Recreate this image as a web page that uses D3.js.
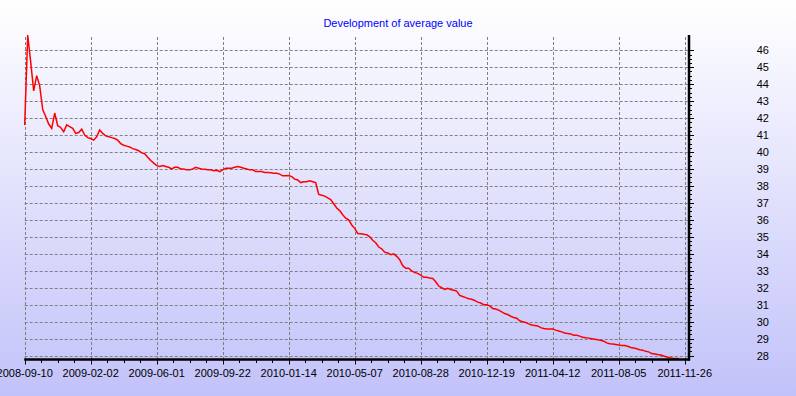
<!DOCTYPE html>
<html>
<head>
<meta charset="utf-8">
<script src="https://cdn.jsdelivr.net/npm/d3@7"></script>
<style>
    body { margin: 0; }
    text { font-family: "Liberation Sans", Arial, sans-serif; }
</style>
</head>
<body>
<div id="plot"></div>
<script>
// labels along the bottom, evenly spaced
const tickDates = ["2008-09-10", "2009-02-02", "2009-06-01", "2009-09-22", "2010-01-14", "2010-05-07",
    "2010-08-28", "2010-12-19", "2011-04-12", "2011-08-05", "2011-11-26"];
const yTickValues = [28, 29, 30, 31, 32, 33, 34, 35, 36, 37, 38, 39, 40, 41, 42, 43, 44, 45, 46];

// average value (one sample per step)
const avgValue = [
    41.6, 46.9, 45.3, 43.6, 44.5, 43.9, 42.5, 42.1, 41.65, 41.4,
    42.3, 41.55, 41.45, 41.2, 41.6, 41.5, 41.4, 41.1, 41.15, 41.35,
    41.0, 40.85, 40.8, 40.7, 40.9, 41.3, 41.1, 40.95, 40.9, 40.85,
    40.8, 40.7, 40.5, 40.4, 40.35, 40.3, 40.2, 40.15, 40.08, 39.95,
    39.9, 39.7, 39.5, 39.35, 39.2, 39.15, 39.2, 39.15, 39.1, 39.0,
    39.1, 39.1, 39.0, 39.0, 38.95, 38.95, 39.0, 39.1, 39.05, 39.0,
    38.98, 38.95, 38.95, 38.9, 38.92, 38.85, 38.95, 39.05, 39.05, 39.05,
    39.1, 39.15, 39.1, 39.05, 39.0, 38.95, 38.95, 38.85, 38.85, 38.85,
    38.8, 38.8, 38.78, 38.75, 38.75, 38.7, 38.6, 38.6, 38.62, 38.55,
    38.4, 38.35, 38.2, 38.25, 38.25, 38.3, 38.25, 38.2, 37.5, 37.45,
    37.4, 37.3, 37.2, 36.95, 36.7, 36.55, 36.3, 36.1, 36.0, 35.7,
    35.5, 35.2, 35.18, 35.15, 35.13, 35.0, 34.8, 34.65, 34.4, 34.3,
    34.1, 34.05, 33.95, 34.0, 33.85, 33.65, 33.3, 33.15, 33.15, 33.0,
    32.9, 32.85, 32.75, 32.62, 32.62, 32.58, 32.55, 32.35, 32.1, 32.0,
    31.9, 31.97, 31.9, 31.85, 31.8, 31.55, 31.48, 31.42, 31.35, 31.32,
    31.25, 31.15, 31.1, 31.0, 31.0, 30.93, 30.78, 30.75, 30.68, 30.58,
    30.48, 30.42, 30.32, 30.25, 30.2, 30.05, 30.0, 29.95, 29.87, 29.8,
    29.78, 29.75, 29.65, 29.6, 29.57, 29.57, 29.57, 29.5, 29.45, 29.4,
    29.33, 29.3, 29.28, 29.2, 29.2, 29.15, 29.08, 29.05, 29.03, 29.0,
    28.97, 28.93, 28.9, 28.85, 28.75, 28.7, 28.68, 28.66, 28.62, 28.6,
    28.6, 28.55, 28.48, 28.45, 28.4, 28.35, 28.32, 28.25, 28.22, 28.12,
    28.1, 28.06, 28.04, 27.98, 27.92, 27.88, 27.85, 27.83, 27.83
];

const width = 796;
const height = 396;
const plotLeft = 24.7;
const plotRight = 684.7;
const axisRightX = 689;
const plotTop = 35;
const plotBottom = 359.5;
const stepsPerLabel = 22;

const svg = d3.select("#plot")
    .append("svg")
    .attr("width", width)
    .attr("height", height);

const defs = svg.append("defs");
const bg = defs.append("linearGradient")
    .attr("id", "bg-gradient")
    .attr("x1", 0).attr("y1", 0)
    .attr("x2", 0).attr("y2", 1);
bg.append("stop").attr("offset", "0%").attr("stop-color", "#ffffff");
bg.append("stop").attr("offset", "100%").attr("stop-color", "#c2c2fa");

svg.append("rect")
    .attr("width", width)
    .attr("height", height)
    .style("fill", "url(#bg-gradient)");

const xScale = d3.scaleLinear()
    .domain([0, (tickDates.length - 1) * stepsPerLabel])
    .range([plotLeft, plotRight]);

const yScale = d3.scaleLinear()
    .domain([27.77, 46.9])
    .range([plotBottom, plotTop]);

const labelIdx = tickDates.map((d, i) => i * stepsPerLabel);
const minorIdx = d3.range(0, (tickDates.length - 1) * stepsPerLabel + 1, stepsPerLabel / 4);
const minorY = d3.range(yTickValues[0], yTickValues[yTickValues.length - 1] + 0.01, 0.25);

// grid
svg.append("g")
    .selectAll("line")
    .data(yTickValues)
    .enter()
    .append("line")
    .attr("x1", plotLeft)
    .attr("x2", axisRightX)
    .attr("y1", d => Math.round(yScale(d)) + 0.5)
    .attr("y2", d => Math.round(yScale(d)) + 0.5)
    .style("stroke", "#808080")
    .style("stroke-dasharray", "3,2");

svg.append("g")
    .selectAll("line")
    .data(labelIdx)
    .enter()
    .append("line")
    .attr("x1", d => Math.round(xScale(d)) + 0.5)
    .attr("x2", d => Math.round(xScale(d)) + 0.5)
    .attr("y1", plotTop + 2)
    .attr("y2", plotBottom)
    .style("stroke", "#808080")
    .style("stroke-dasharray", "3,2");

// the series
const line = d3.line()
    .x((d, i) => xScale(i))
    .y(d => yScale(d));

svg.append("path")
    .datum(avgValue)
    .attr("d", line)
    .style("fill", "none")
    .style("stroke", "#ff0000")
    .style("stroke-width", 1.5);

// bottom axis
svg.append("g")
    .selectAll("line")
    .data(minorIdx)
    .enter()
    .append("line")
    .attr("x1", d => Math.round(xScale(d)) + 0.5)
    .attr("x2", d => Math.round(xScale(d)) + 0.5)
    .attr("y1", plotBottom)
    .attr("y2", d => plotBottom + (d % stepsPerLabel === 0 ? 5 : 3.5))
    .style("stroke", "#000");

svg.append("line")
    .attr("x1", plotLeft - 0.5)
    .attr("x2", axisRightX + 1)
    .attr("y1", plotBottom)
    .attr("y2", plotBottom)
    .style("stroke", "#000")
    .style("stroke-width", 2.5);

svg.append("g")
    .selectAll("text")
    .data(tickDates)
    .enter()
    .append("text")
    .attr("x", (d, i) => xScale(labelIdx[i]))
    .attr("y", 377)
    .attr("text-anchor", "middle")
    .style("font-size", "11px")
    .style("fill", "#000")
    .text(d => d);

// right axis
svg.append("g")
    .selectAll("line")
    .data(minorY)
    .enter()
    .append("line")
    .attr("x1", axisRightX)
    .attr("x2", d => axisRightX + (Math.abs(d - Math.round(d)) < 0.01 ? 5 : 3))
    .attr("y1", d => Math.round(yScale(d)) + 0.5)
    .attr("y2", d => Math.round(yScale(d)) + 0.5)
    .style("stroke", "#000");

svg.append("line")
    .attr("x1", axisRightX)
    .attr("x2", axisRightX)
    .attr("y1", plotTop)
    .attr("y2", plotBottom + 1)
    .style("stroke", "#000")
    .style("stroke-width", 2.5);

svg.append("g")
    .selectAll("text")
    .data(yTickValues)
    .enter()
    .append("text")
    .attr("x", 769)
    .attr("y", d => yScale(d) + 4)
    .attr("text-anchor", "end")
    .style("font-size", "11px")
    .style("fill", "#000")
    .text(d => d);

// title
svg.append("text")
    .attr("x", width / 2)
    .attr("y", 27)
    .attr("text-anchor", "middle")
    .style("font-size", "11px")
    .style("fill", "#0000ff")
    .text("Development of average value");
</script>
</body>
</html>
